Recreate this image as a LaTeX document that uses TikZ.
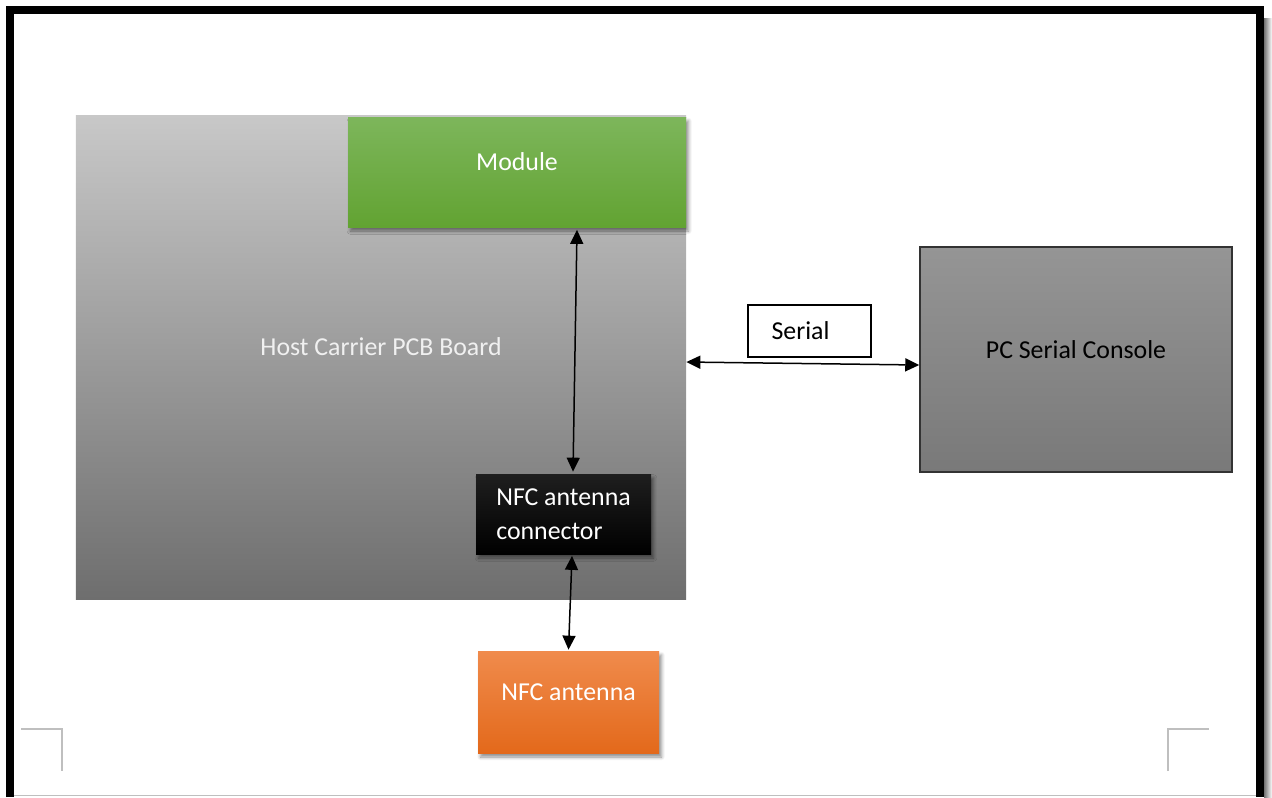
\documentclass[tikz,border=0pt]{standalone}
\usepackage{fontspec}
\setmainfont{Carlito}
\usetikzlibrary{arrows.meta, shadows.blur}

\tikzset{
    boxText/.style={text=white, font=\fontsize{14.7}{19.3}\selectfont},
    darkText/.style={text=black, font=\fontsize{14.7}{19.3}\selectfont},
    blockBox/.style={draw=none, inner sep=0pt},
    softShadow/.style={blur shadow={shadow xshift=0.5mm, shadow yshift=-0.8mm, shadow blur steps=6, shadow opacity=45}},
    biArrow/.style={{Triangle[length=2.8mm,width=2.6mm]}-{Triangle[length=2.8mm,width=2.6mm]}, line width=0.3mm},
    cropMark/.style={draw=markColour, line width=0.3mm}
}

\begin{document}
\begin{tikzpicture}[x=0.2mm, y=-0.2mm]
    % Colours of the blocks
    \definecolor{boardTop}{HTML}{C8C8C8}
    \definecolor{boardBottom}{HTML}{6E6E6E}
    \definecolor{moduleTop}{HTML}{7DB65B}
    \definecolor{moduleBottom}{HTML}{62A332}
    \definecolor{antennaTop}{HTML}{F08B4C}
    \definecolor{antennaBottom}{HTML}{E3691B}
    \definecolor{consoleTop}{HTML}{959595}
    \definecolor{consoleBottom}{HTML}{797979}
    \definecolor{markColour}{HTML}{BFBFBF}

    \useasboundingbox (0,0) rectangle (1272,797);

    % Page frame and its shadow
    \fill[left color=black!55, right color=white] (1264,18) rectangle (1272,797);
    \draw[markColour, line width=0.2mm] (14,795) -- (1256,795);
    \draw[line width=1.6mm] (10,797) -- (10,10) -- (1260,10) -- (1260,797);

    % Crop marks in the lower corners
    \draw[cropMark] (21,729) -- (62,729) -- (62,771);
    \draw[cropMark] (1168,771) -- (1168,729) -- (1209,729);

    % Carrier board
    \node[blockBox, top color=boardTop, bottom color=boardBottom,
          minimum width=122mm, minimum height=96.8mm,
          label={[boxText, text=white!94!black, yshift=2mm]center:Host Carrier PCB Board}]
          (board) at (381,357) {};

    % Module on the board
    \node[blockBox, softShadow, top color=moduleTop, bottom color=moduleBottom,
          minimum width=67.6mm, minimum height=22mm,
          label={[boxText, yshift=2mm]center:Module}]
          (module) at (517,172) {};

    % Antenna connector
    \node[blockBox, softShadow, top color=black!88, bottom color=black,
          minimum width=35mm, minimum height=16mm, boxText, align=left]
          (connector) at (563.5,514) {NFC antenna\\connector};

    % Antenna
    \node[blockBox, softShadow, top color=antennaTop, bottom color=antennaBottom,
          minimum width=36.2mm, minimum height=20.4mm,
          label={[boxText, yshift=2mm]center:NFC antenna}]
          (antenna) at (568.5,702) {};

    % PC console
    \node[draw=black!80, line width=0.3mm, top color=consoleTop, bottom color=consoleBottom,
          inner sep=0pt, minimum width=62.4mm, minimum height=45mm,
          label={[darkText, yshift=1.9mm]center:PC Serial Console}]
          (console) at (1076,359.5) {};

    % Link label
    \node[draw=black, line width=0.25mm, fill=white, inner sep=0pt,
          minimum width=24.6mm, minimum height=10.4mm,
          label={[darkText, xshift=-1.8mm]center:Serial}]
          (serialBox) at (809.5,331) {};

    % Connections
    \draw[biArrow] ([xshift=12mm, yshift=-0.5mm]module.south) -- ([xshift=1.9mm, yshift=0.4mm]connector.north);
    \draw[biArrow] ([xshift=1.7mm, yshift=-0.3mm]connector.south) -- ([yshift=0.2mm]antenna.north);
    \draw[biArrow] ([yshift=-1mm]board.east) -- ([yshift=-1.1mm]console.west);

\end{tikzpicture}
\end{document}
